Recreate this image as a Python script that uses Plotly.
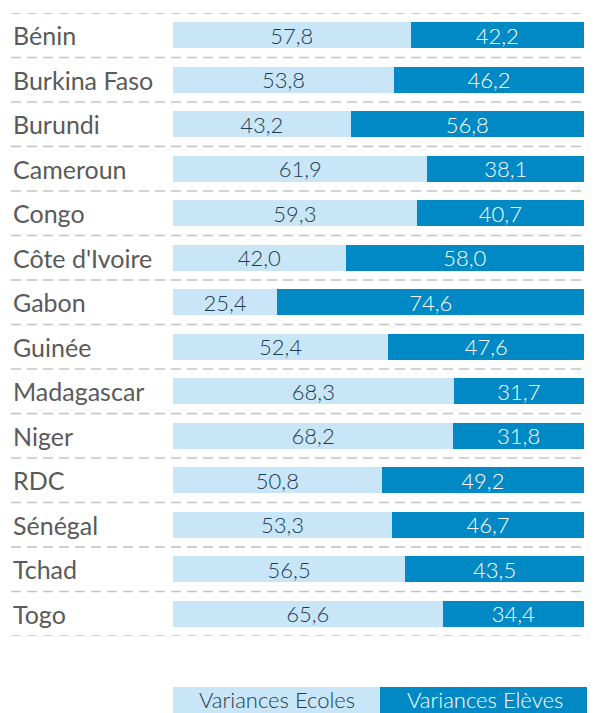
import plotly.graph_objects as go

countries = ["Bénin", "Burkina Faso", "Burundi", "Cameroun", "Congo", "Côte d'Ivoire",
             "Gabon", "Guinée", "Madagascar", "Niger", "RDC", "Sénégal", "Tchad", "Togo"]
ecoles = [57.8, 53.8, 43.2, 61.9, 59.3, 42.0, 25.4, 52.4, 68.3, 68.2, 50.8, 53.3, 56.5, 65.6]
eleves = [42.2, 46.2, 56.8, 38.1, 40.7, 58.0, 74.6, 47.6, 31.7, 31.8, 49.2, 46.7, 43.5, 34.4]
series_names = ["Variances Ecoles", "Variances Elèves"]

LIGHT = "#c9e6f8"
DARK = "#0089c4"
FONT = "Lato"

def fmt(v):
    return f"{v:.1f}".replace(".", ",")

fig = go.Figure()
fig.add_trace(go.Bar(
    y=countries, x=ecoles, orientation="h", name=series_names[0],
    marker=dict(color=LIGHT, line=dict(width=0)),
    text=[fmt(v) for v in ecoles], textposition="inside", insidetextanchor="middle",
    constraintext="none",
    textfont=dict(family=FONT, size=22, color="#1f3b50", weight=300), width=0.58,
    hoverinfo="skip",
))
fig.add_trace(go.Bar(
    y=countries, x=eleves, orientation="h", name=series_names[1],
    marker=dict(color=DARK, line=dict(width=0)),
    text=[fmt(v) for v in eleves], textposition="inside", insidetextanchor="middle",
    constraintext="none",
    textfont=dict(family=FONT, size=22, color="white", weight=300), width=0.58,
    hoverinfo="skip",
))

# page body has an 8px margin: figure coordinates = screen - 8
OFF = 8
W, H = 595 - OFF, 713 - OFF
ml, mr, mt, mb = 173 - OFF, 11, 13 - OFF, 77
pw = W - ml - mr
ph = H - mt - mb

def px_x(sx):
    return (sx - OFF - ml) / pw

def px_y(sy):
    return (H - mb - (sy - OFF)) / ph

shapes = []
n = len(countries)
for i in range(n + 1):
    shapes.append(dict(type="line", xref="paper", yref="y",
                       x0=px_x(11), x1=px_x(600),
                       y0=i - 0.5, y1=i - 0.5,
                       line=dict(color="#c4c4c4", width=1.5, dash="10px,6px"), layer="below"))

annotations = []
for c in countries:
    annotations.append(dict(xref="paper", yref="y", x=px_x(11), y=c, text=c,
                            showarrow=False, xanchor="left", yanchor="middle",
                            font=dict(family=FONT, size=25, color="#5a5a5a")))

# custom legend boxes
xs = [px_x(173), px_x(380), px_x(589)]
cols = [LIGHT, DARK]
tcols = ["#1f3b50", "white"]
for k in range(2):
    shapes.append(dict(type="rect", xref="paper", yref="paper", x0=xs[k], x1=xs[k + 1],
                       y0=px_y(720), y1=px_y(687), fillcolor=cols[k], line=dict(width=0)))
    annotations.append(dict(xref="paper", yref="paper", x=(xs[k] + xs[k + 1]) / 2,
                            y=px_y(699), text=series_names[k], showarrow=False,
                            xanchor="center", yanchor="middle",
                            font=dict(family=FONT, size=22, color=tcols[k], weight=300)))

fig.update_layout(
    width=W, height=H, barmode="stack",
    margin=dict(l=ml, r=mr, t=mt, b=mb),
    paper_bgcolor="white", plot_bgcolor="white",
    showlegend=False,
    xaxis=dict(range=[0, 100], visible=False, fixedrange=True),
    yaxis=dict(autorange=False, range=[n - 0.5, -0.5], showticklabels=False,
               showgrid=False, zeroline=False, showline=False, ticks="",
               categoryorder="array", categoryarray=countries),
    shapes=shapes, annotations=annotations,
    font=dict(family=FONT),
)

fig.write_html("out.html")
